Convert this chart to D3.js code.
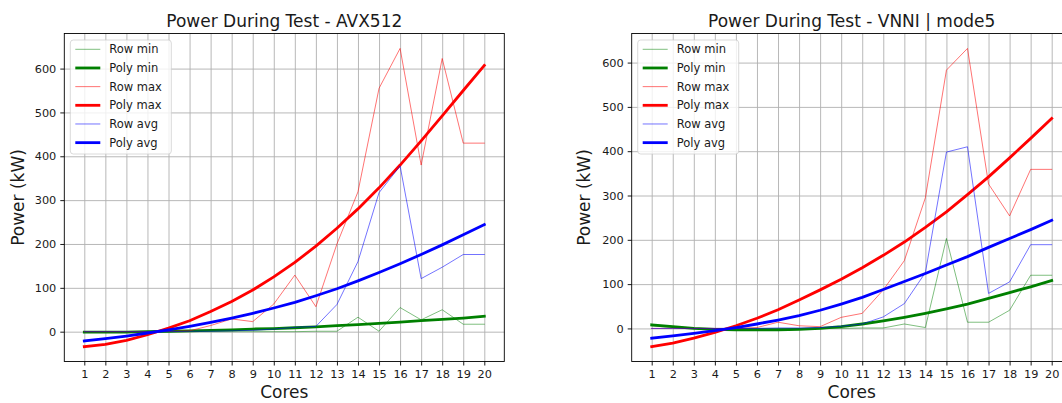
<!DOCTYPE html>
<html>
<head>
<meta charset="utf-8">
<script src="https://cdn.jsdelivr.net/npm/d3@7"></script>
<style>
  body { margin: 0; background: #fff; }
  svg { display: block; }
  text { font-family: "DejaVu Sans", sans-serif; fill: #1a1a1a; }
</style>
</head>
<body>
<svg id="chart" width="1062" height="403"></svg>
<script>
// Core counts on the x axis
const cores = [1,2,3,4,5,6,7,8,9,10,11,12,13,14,15,16,17,18,19,20];
const yTicks = [0,100,200,300,400,500,600];
const seriesNames = ["Row min","Poly min","Row max","Poly max","Row avg","Poly avg"];

// AVX512 run (kW)
const rowMinAvx  = [0,0,0,0,0,0,0,0,0,0,0,1,1,33,1,55,27,50,17,17];
const polyMinAvx = [-1,-1,-1,0,1,2,3,4,6,7,9,11,14,16,19,22,25,28,31,35];
const rowMaxAvx  = [0,0,0,0,1,2,14,29,23,63,129,57,200,319,555,646,380,623,430,430];
const polyMaxAvx = [-34,-29,-20,-7,8,25,46,69,95,125,158,195,236,280,328,380,435,492,550,607];
const rowAvgAvx  = [0,0,0,0,0,1,1,2,3,6,10,12,62,160,317,378,121,147,176,176];
const polyAvgAvx = [-21,-16,-10,-3,4,12,21,31,42,54,67,82,98,116,135,155,176,198,221,244];

// VNNI mode5 run (kW)
const rowMinVnni  = [6,2,0,0,0,0,0,0,0,0,1,1,10,2,203,14,14,41,120,120];
const polyMinVnni = [8,4,0,-2,-3,-3,-3,-2,0,4,10,17,25,34,44,55,68,81,94,108];
const rowMaxVnni  = [0,0,0,0,0,2,14,6,4,25,34,87,153,295,583,632,326,254,359,359];
const polyMaxVnni = [-41,-33,-22,-9,6,23,42,64,87,111,137,165,195,228,263,302,342,385,429,474];
const rowAvgVnni  = [0,0,0,0,0,0,1,1,2,5,10,26,56,126,398,410,79,105,189,189];
const polyAvgVnni = [-22,-17,-11,-5,2,10,19,29,41,55,70,88,106,124,143,162,183,203,223,244];

const svg = d3.select("#chart");

const styles = [
  { color: "#008000", width: 1,   opacity: 0.5 },
  { color: "#008000", width: 2.8, opacity: 1 },
  { color: "#ff0000", width: 1,   opacity: 0.55 },
  { color: "#ff0000", width: 2.8, opacity: 1 },
  { color: "#0000ff", width: 1,   opacity: 0.55 },
  { color: "#0000ff", width: 2.8, opacity: 1 }
];

function drawPanel(opts) {
  const { left, right, top, bottom, title, series, labelX } = opts;
  const g = svg.append("g");

  const all = series.flat();
  const lo = d3.min(all), hi = d3.max(all);
  const pad = (hi - lo) * 0.05;

  const x = d3.scaleLinear().domain([cores[0] - 0.95, cores[cores.length - 1] + 0.95]).range([left, right]);
  const y = d3.scaleLinear().domain([lo - pad, hi + pad]).range([bottom, top]);

  // grid
  g.append("g")
    .attr("transform", `translate(0,${bottom})`)
    .call(d3.axisBottom(x).tickValues(cores).tickSize(-(bottom - top)).tickFormat(""))
    .call(s => s.select(".domain").remove())
    .call(s => s.selectAll("line").attr("stroke", "#b0b0b0").attr("stroke-width", 0.9));
  g.append("g")
    .attr("transform", `translate(${left},0)`)
    .call(d3.axisLeft(y).tickValues(yTicks).tickSize(-(right - left)).tickFormat(""))
    .call(s => s.select(".domain").remove())
    .call(s => s.selectAll("line").attr("stroke", "#b0b0b0").attr("stroke-width", 0.9));

  // series
  const line = d3.line().x((d, i) => x(cores[i])).y(d => y(d));
  series.forEach((vals, k) => {
    g.append("path")
      .datum(vals)
      .attr("d", line)
      .attr("fill", "none")
      .attr("stroke", styles[k].color)
      .attr("stroke-width", styles[k].width)
      .attr("stroke-opacity", styles[k].opacity)
      .attr("stroke-linejoin", "round")
      .attr("stroke-linecap", "square");
  });

  // axes
  const xa = g.append("g")
    .attr("transform", `translate(0,${bottom})`)
    .call(d3.axisBottom(x).tickValues(cores).tickSize(4).tickPadding(4).tickSizeOuter(0));
  const ya = g.append("g")
    .attr("transform", `translate(${left},0)`)
    .call(d3.axisLeft(y).tickValues(yTicks).tickSize(4).tickPadding(4).tickSizeOuter(0));
  [xa, ya].forEach(a => {
    a.select(".domain").remove();
    a.selectAll("line").attr("stroke", "#000").attr("stroke-width", 0.9);
    a.selectAll("text").attr("font-size", 11.3).attr("font-family", "DejaVu Sans").attr("fill", "#1a1a1a");
  });

  // frame
  g.append("rect")
    .attr("x", left).attr("y", top)
    .attr("width", right - left).attr("height", bottom - top)
    .attr("fill", "none").attr("stroke", "#000").attr("stroke-width", 0.9);

  // legend
  const lx = left + 6, ly = 40;
  const lg = g.append("g");
  lg.append("rect")
    .attr("x", lx).attr("y", ly).attr("width", 101).attr("height", 114).attr("rx", 3)
    .attr("fill", "#fff").attr("fill-opacity", 0.8)
    .attr("stroke", "#cccccc").attr("stroke-opacity", 0.8).attr("stroke-width", 0.9);
  seriesNames.forEach((name, k) => {
    const yy = ly + 9.3 + k * 18.67;
    lg.append("line")
      .attr("x1", lx + 5).attr("x2", lx + 30).attr("y1", yy).attr("y2", yy)
      .attr("stroke", styles[k].color).attr("stroke-width", styles[k].width)
      .attr("stroke-opacity", styles[k].opacity);
    lg.append("text")
      .attr("x", lx + 39).attr("y", yy).attr("dy", "0.36em")
      .attr("font-size", 11.5).text(name);
  });

  // titles
  g.append("text")
    .attr("x", (left + right) / 2).attr("y", 27)
    .attr("text-anchor", "middle").attr("font-size", 17).text(title);
  g.append("text")
    .attr("x", (left + right) / 2).attr("y", 398)
    .attr("text-anchor", "middle").attr("font-size", 17).text("Cores");
  g.append("text")
    .attr("transform", `translate(${labelX},${(top + bottom) / 2}) rotate(-90)`)
    .attr("text-anchor", "middle").attr("font-size", 17).text("Power (kW)");
}

drawPanel({
  left: 64.3, right: 504.3, top: 33.5, bottom: 361.5,
  title: "Power During Test - AVX512",
  series: [rowMinAvx, polyMinAvx, rowMaxAvx, polyMaxAvx, rowAvgAvx, polyAvgAvx],
  labelX: 24
});

drawPanel({
  left: 631.7, right: 1071.7, top: 33.5, bottom: 361.5,
  title: "Power During Test - VNNI | mode5",
  series: [rowMinVnni, polyMinVnni, rowMaxVnni, polyMaxVnni, rowAvgVnni, polyAvgVnni],
  labelX: 590
});
</script>
</body>
</html>
